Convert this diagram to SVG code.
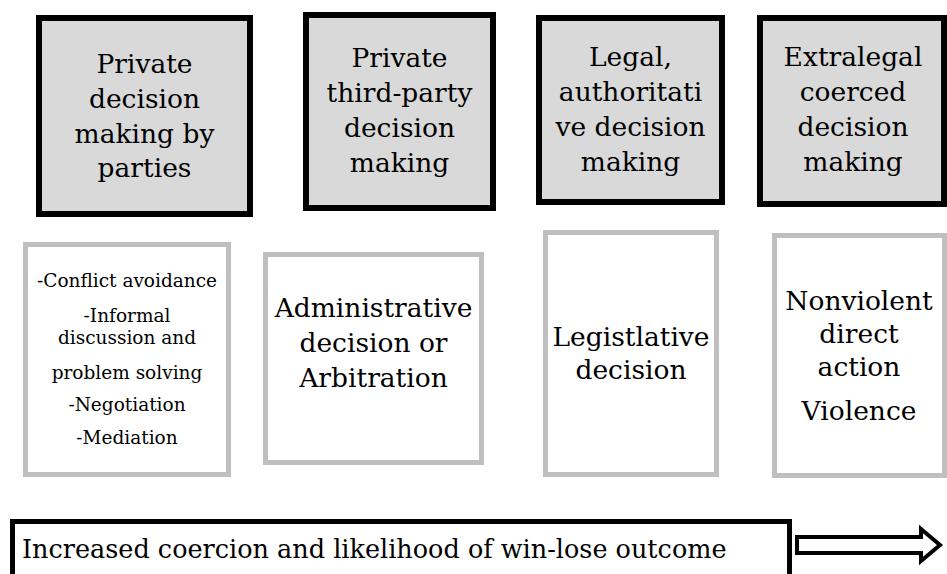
<svg xmlns="http://www.w3.org/2000/svg" width="947" height="574" viewBox="0 0 947 574">
  <style>
    .cat { fill: #d9d9d9; stroke: #000000; stroke-width: 6; }
    .ex { fill: #ffffff; stroke: #bfbfbf; stroke-width: 5; }
    text { font-family: "DejaVu Serif", "Liberation Serif", serif; fill: #000000; text-anchor: middle; }
    .h { font-size: 26.5px; }
    .s { font-size: 18.5px; }
    .bar { fill: #ffffff; stroke: #000000; stroke-width: 5; }
    .arrow { fill: #ffffff; stroke: #000000; stroke-width: 4; stroke-linejoin: miter; }
  </style>

  <!-- Decision-making categories -->
  <g id="cat-private-parties">
    <rect class="cat" x="39" y="18" width="211" height="196"/>
    <text class="h" x="144.5" y="73">Private</text>
    <text class="h" x="144.5" y="108">decision</text>
    <text class="h" x="144.5" y="143">making by</text>
    <text class="h" x="144.5" y="177">parties</text>
  </g>
  <g id="cat-private-third-party">
    <rect class="cat" x="306" y="15" width="187" height="193"/>
    <text class="h" x="399.5" y="67">Private</text>
    <text class="h" x="399.5" y="102">third-party</text>
    <text class="h" x="399.5" y="137">decision</text>
    <text class="h" x="399.5" y="172">making</text>
  </g>
  <g id="cat-legal">
    <rect class="cat" x="539" y="18" width="183" height="184"/>
    <text class="h" x="630.5" y="66">Legal,</text>
    <text class="h" x="630.5" y="101">authoritati</text>
    <text class="h" x="630.5" y="136">ve decision</text>
    <text class="h" x="630.5" y="171">making</text>
  </g>
  <g id="cat-extralegal">
    <rect class="cat" x="760" y="18" width="184" height="186"/>
    <text class="h" x="853" y="66">Extralegal</text>
    <text class="h" x="853" y="101">coerced</text>
    <text class="h" x="853" y="136">decision</text>
    <text class="h" x="853" y="171">making</text>
  </g>

  <!-- Examples for each category -->
  <g id="ex-private-parties">
    <rect class="ex" x="25.5" y="244.5" width="203" height="230"/>
    <text class="s" x="127" y="287">-Conflict avoidance</text>
    <text class="s" x="127" y="322">-Informal</text>
    <text class="s" x="127" y="344">discussion and</text>
    <text class="s" x="127" y="379">problem solving</text>
    <text class="s" x="127" y="411">-Negotiation</text>
    <text class="s" x="127" y="444">-Mediation</text>
  </g>
  <g id="ex-third-party">
    <rect class="ex" x="265.5" y="254.5" width="216" height="208"/>
    <text class="h" x="373.5" y="317">Administrative</text>
    <text class="h" x="373.5" y="352">decision or</text>
    <text class="h" x="373.5" y="387">Arbitration</text>
  </g>
  <g id="ex-legal">
    <rect class="ex" x="545.5" y="232.5" width="171" height="242"/>
    <text class="h" x="631" y="346">Legistlative</text>
    <text class="h" x="631" y="379">decision</text>
  </g>
  <g id="ex-extralegal">
    <rect class="ex" x="774.5" y="235.5" width="170" height="240"/>
    <text class="h" x="859" y="310">Nonviolent</text>
    <text class="h" x="859" y="343">direct</text>
    <text class="h" x="859" y="376">action</text>
    <text class="h" x="859" y="420">Violence</text>
  </g>

  <!-- Coercion scale -->
  <g id="scale">
    <rect class="bar" x="12.5" y="521.5" width="777" height="70"/>
    <text x="22" y="558" style="font-size:25.5px; text-anchor:start;">Increased coercion and likelihood of win-lose outcome</text>
  </g>
  <g id="connectors">
    <path class="arrow" d="M797,537 L921,537 L921,529 L940,545 L921,561 L921,553 L797,553 Z"/>
  </g>
</svg>
